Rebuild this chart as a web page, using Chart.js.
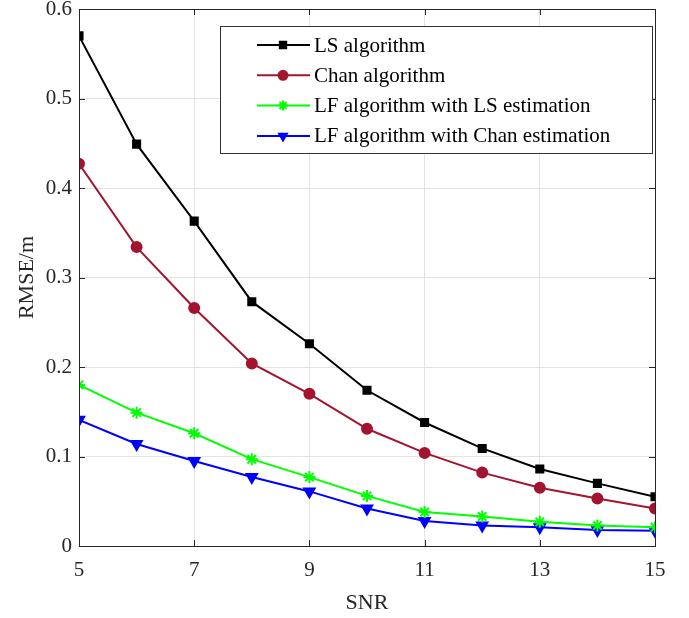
<!DOCTYPE html>
<html>
<head>
<meta charset="utf-8">
<script src="https://cdn.jsdelivr.net/npm/chart.js@4"></script>
<style>
  html, body { margin: 0; padding: 0; background: #fff; }
  #wrap { width: 689px; height: 618px; }
</style>
</head>
<body>
<div id="wrap"><canvas id="c" width="689" height="618"></canvas></div>
<script>
// SNR と各手法の RMSE
const snr = [5, 6, 7, 8, 9, 10, 11, 12, 13, 14, 15];
const lsAlg = [0.570, 0.449, 0.363, 0.273, 0.226, 0.174, 0.138, 0.109, 0.086, 0.070, 0.055];
const chanAlg = [0.427, 0.334, 0.266, 0.204, 0.170, 0.131, 0.104, 0.082, 0.065, 0.053, 0.042];
const lfLs = [0.180, 0.149, 0.126, 0.097, 0.077, 0.056, 0.038, 0.033, 0.027, 0.023, 0.021];
const lfChan = [0.141, 0.114, 0.095, 0.077, 0.061, 0.042, 0.028, 0.023, 0.021, 0.018, 0.017];
const names = ['LS algorithm', 'Chan algorithm', 'LF algorithm with LS estimation', 'LF algorithm with Chan estimation'];

const FONT = 'Liberation Serif, Times New Roman, serif';
const AXIS = '#262626';

const pts = ys => snr.map((x, i) => ({ x, y: ys[i] }));

const sets = [
  { label: names[0], data: pts(lsAlg), borderColor: '#000', backgroundColor: '#000', pointStyle: 'rect', pointRadius: 5, rotation: 0 },
  { label: names[1], data: pts(chanAlg), borderColor: '#a2142f', backgroundColor: '#a2142f', pointStyle: 'circle', pointRadius: 5, rotation: 0 },
  { label: names[2], data: pts(lfLs), borderColor: '#00ff00', backgroundColor: '#00ff00', pointStyle: 'star', pointRadius: 6, rotation: 0 },
  { label: names[3], data: pts(lfChan), borderColor: '#0000ff', backgroundColor: '#0000ff', pointStyle: 'triangle', pointRadius: 6, rotation: 180 },
].map(d => Object.assign(d, { borderWidth: 2, pointBorderWidth: 2, tension: 0, fill: false, pointHoverRadius: d.pointRadius }));

// 枠・内向き目盛り・凡例
const boxPlugin = {
  id: 'box',
  afterDraw(ch) {
    const { ctx, chartArea: a, scales: { x, y } } = ch;
    ctx.save();
    ctx.strokeStyle = AXIS; ctx.lineWidth = 1;
    ctx.strokeRect(a.left + 0.5, a.top + 0.5, a.right - a.left, a.bottom - a.top);
    const t = 6;
    ctx.beginPath();
    x.ticks.forEach(tk => { const px = Math.round(x.getPixelForValue(tk.value)) + 0.5; ctx.moveTo(px, a.bottom); ctx.lineTo(px, a.bottom - t); ctx.moveTo(px, a.top); ctx.lineTo(px, a.top + t); });
    y.ticks.forEach(tk => { const py = Math.round(y.getPixelForValue(tk.value)) + 0.5; ctx.moveTo(a.left, py); ctx.lineTo(a.left + t, py); ctx.moveTo(a.right, py); ctx.lineTo(a.right - t, py); });
    ctx.stroke();

    // 凡例
    const lx = 220, ly = 26, lw = 432, lh = 127;
    ctx.fillStyle = '#fff';
    ctx.fillRect(lx, ly, lw, lh);
    ctx.strokeStyle = '#333';
    ctx.strokeRect(lx + 0.5, ly + 0.5, lw, lh);
    ctx.font = '21px ' + FONT;
    ctx.textBaseline = 'middle';
    ch.data.datasets.forEach((d, i) => {
      const cy = 45 + i * 30.3;
      ctx.strokeStyle = d.borderColor; ctx.lineWidth = 2;
      ctx.beginPath(); ctx.moveTo(257, cy); ctx.lineTo(310, cy); ctx.stroke();
      ctx.fillStyle = d.backgroundColor;
      Chart.helpers.drawPoint(ctx, { pointStyle: d.pointStyle, radius: i === 2 ? 5 : 4.5, rotation: d.rotation, borderWidth: 2 }, 283, cy);
      ctx.fillStyle = '#000';
      ctx.fillText(d.label, 314, cy + 1);
    });
    ctx.restore();
  }
};

new Chart(document.getElementById('c'), {
  type: 'line',
  data: { datasets: sets },
  plugins: [boxPlugin],
  options: {
    responsive: false, animation: false,
    layout: { padding: { top: 9, right: 34, left: 0, bottom: 0 } },
    plugins: { legend: { display: false }, tooltip: { enabled: false } },
    scales: {
      x: {
        type: 'linear', min: 5, max: 15,
        afterFit: s => { s.height = 72; s.paddingLeft = 0; s.paddingRight = 0; },
        ticks: { stepSize: 2, color: AXIS, padding: 12, font: { family: FONT, size: 21 } },
        grid: { color: '#e3e3e3', drawTicks: false },
        border: { display: false },
        title: { display: true, text: 'SNR', color: AXIS, font: { family: FONT, size: 22 }, padding: { top: 0, bottom: 2 } },
      },
      y: {
        min: 0, max: 0.6,
        afterFit: s => { s.width = 79; s.paddingTop = 0; s.paddingBottom = 0; },
        ticks: { stepSize: 0.1, color: AXIS, padding: 7, font: { family: FONT, size: 21 }, callback: v => (Math.round(v * 10) / 10).toString() },
        grid: { color: '#e3e3e3', drawTicks: false },
        border: { display: false },
        title: { display: true, text: 'RMSE/m', color: AXIS, font: { family: FONT, size: 22 }, padding: { top: 14, bottom: 0 } },
      },
    },
  },
});
</script>
</body>
</html>
